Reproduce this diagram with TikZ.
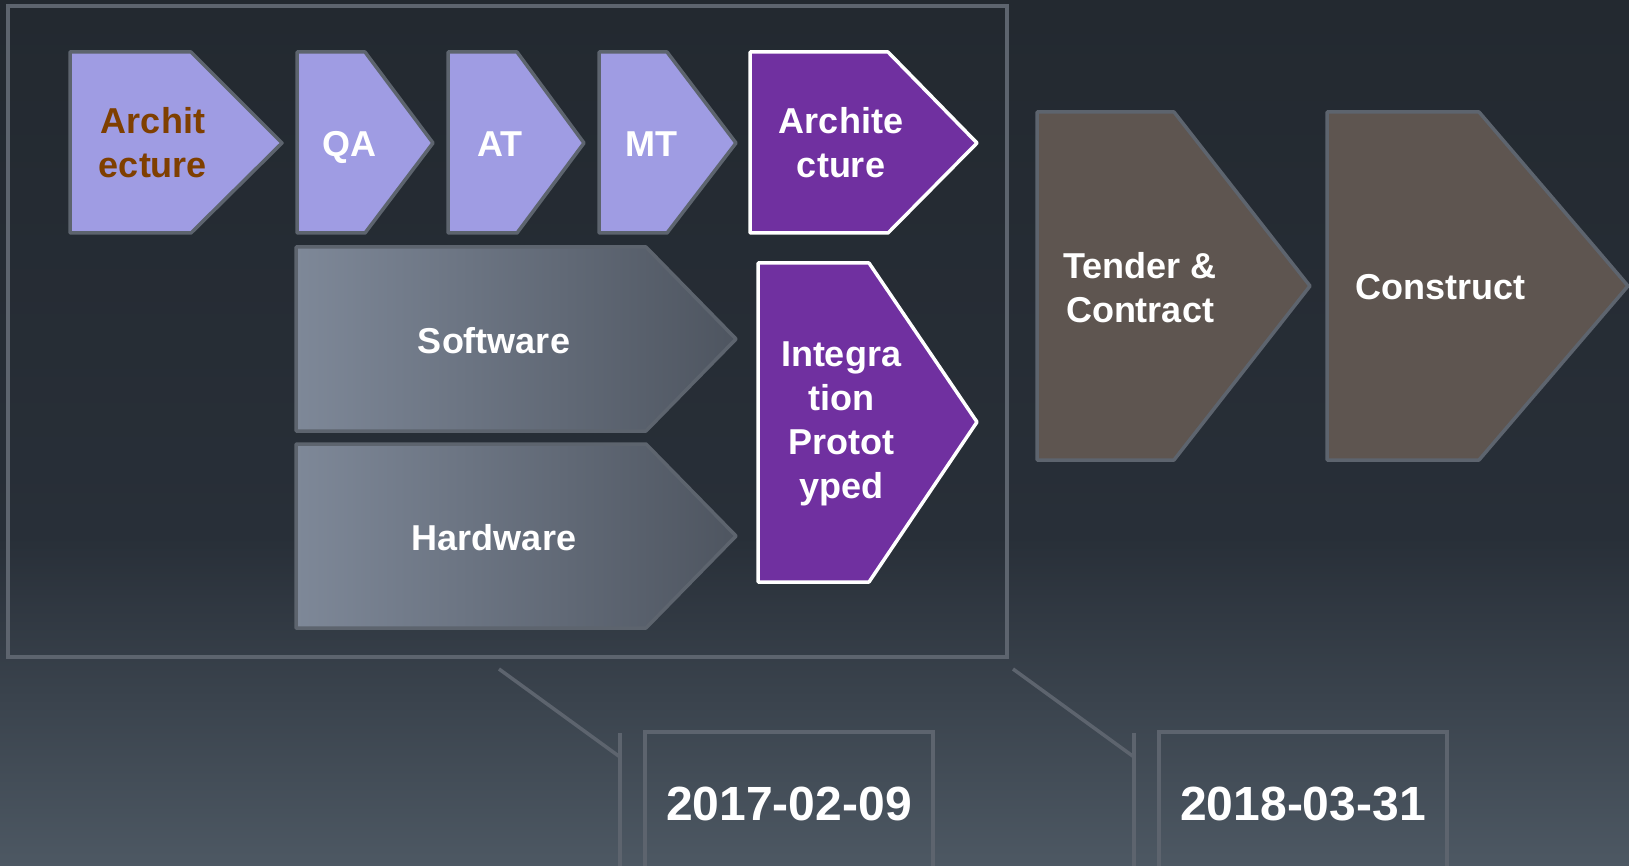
\documentclass[tikz,border=0pt]{standalone}
\usepackage{fontspec}
\setmainfont{Liberation Sans}
\definecolor{bgtop}{HTML}{232930}
\definecolor{bgmid}{HTML}{282F38}
\definecolor{bgbot}{HTML}{4D5863}
\definecolor{edgegray}{HTML}{5D646E}
\definecolor{lilac}{HTML}{9F9CE3}
\definecolor{archbrown}{HTML}{7F3F00}
\definecolor{plum}{HTML}{7030A0}
\definecolor{swleft}{HTML}{7E8898}
\definecolor{swright}{HTML}{4E5560}
\definecolor{mud}{HTML}{5E5550}
% path spans 25bp..75bp of the shading
\pgfdeclareverticalshading{backdrop}{100bp}{color(0bp)=(bgbot); color(25bp)=(bgbot); color(44bp)=(bgmid); color(75bp)=(bgtop); color(100bp)=(bgtop)}
\tikzset{
    lilacstep/.style={fill=lilac, draw=edgegray, line width=3.5pt, line join=round},
    plumstep/.style={fill=plum, draw=white, line width=3.5pt, line join=round},
    greystep/.style={left color=swleft, right color=swright, draw=edgegray, line width=3.5pt, line join=round},
    mudstep/.style={fill=mud, draw=edgegray, line width=3.5pt, line join=round},
    edge/.style={draw=edgegray, line width=3.5pt},
    lbl/.style={font=\bfseries\fontsize{36}{44}\selectfont, text=white, align=center, inner sep=0pt},
    datelbl/.style={font=\bfseries\fontsize{48}{56}\selectfont, text=white, inner sep=0pt, anchor=base},
}

\begin{document}
\begin{tikzpicture}[x=1pt, y=-1pt]
    \useasboundingbox (0,0) rectangle (1629,866);
    \shade[shading=backdrop] (0,0) rectangle (1629,866);
    \draw[edge] (8,6) rectangle (1007,657);

    % top row
    \draw[lilacstep] (70,52) -- (191,52) -- (282,143) -- (191,233) -- (70,233) -- cycle;
    \draw[lilacstep] (297,52) -- (365,52) -- (433,143) -- (365,233) -- (297,233) -- cycle;
    \draw[lilacstep] (448,52) -- (517,52) -- (584,143) -- (517,233) -- (448,233) -- cycle;
    \draw[lilacstep] (599,52) -- (667,52) -- (736,143) -- (667,233) -- (599,233) -- cycle;
    \draw[plumstep] (750,52) -- (888,52) -- (977,143) -- (888,233) -- (750,233) -- cycle;
    \node[lbl, text=archbrown] (archA) at (153,143) {Archit\\ecture};
    \node[lbl, anchor=base] (qa) at (349,157) {QA};
    \node[lbl, anchor=base] (at) at (500,157) {AT};
    \node[lbl, anchor=base] (mt) at (651,157) {MT};
    \node[lbl] (archB) at (841,143) {Archite\\cture};

    % software / hardware
    \draw[greystep] (296,247) -- (646,247) -- (736,339) -- (646,431) -- (296,431) -- cycle;
    \draw[greystep] (296,444) -- (646,444) -- (736,536) -- (646,628) -- (296,628) -- cycle;
    \node[lbl, anchor=base] (soft) at (494,353) {Software};
    \node[lbl, anchor=base] (hard) at (494,550) {Hardware};

    \draw[plumstep] (758,263) -- (869,263) -- (977,422) -- (869,582) -- (758,582) -- cycle;
    \node[lbl] (integ) at (841,424) {Integra\\tion\\Protot\\yped};

    % later phases
    \draw[mudstep] (1037,112) -- (1174,112) -- (1310,286) -- (1174,460) -- (1037,460) -- cycle;
    \draw[mudstep] (1327,112) -- (1479,112) -- (1628,286) -- (1479,460) -- (1327,460) -- cycle;
    \node[lbl] (tender) at (1140,288) {Tender \&\\Contract};
    \node[lbl, anchor=base] (constr) at (1440,300) {Construct};

    % dates
    \coordinate (kinkA) at (499,669);
    \coordinate (footA) at (620,757);
    \coordinate (barAtop) at (620,733);
    \coordinate (barAbot) at (620,870);
    \draw[edge] (kinkA) -- (footA);
    \draw[edge] (barAtop) -- (barAbot);
    \draw[edge] (645,870) -- (645,732) -- (933,732) -- (933,870);
    \node[datelbl] (dateA) at (789,820) {2017-02-09};

    \coordinate (kinkB) at (1013,669);
    \coordinate (footB) at (1134,757);
    \coordinate (barBtop) at (1134,733);
    \coordinate (barBbot) at (1134,870);
    \draw[edge] (kinkB) -- (footB);
    \draw[edge] (barBtop) -- (barBbot);
    \draw[edge] (1159,870) -- (1159,732) -- (1447,732) -- (1447,870);
    \node[datelbl] (dateB) at (1303,820) {2018-03-31};
\end{tikzpicture}
\end{document}
